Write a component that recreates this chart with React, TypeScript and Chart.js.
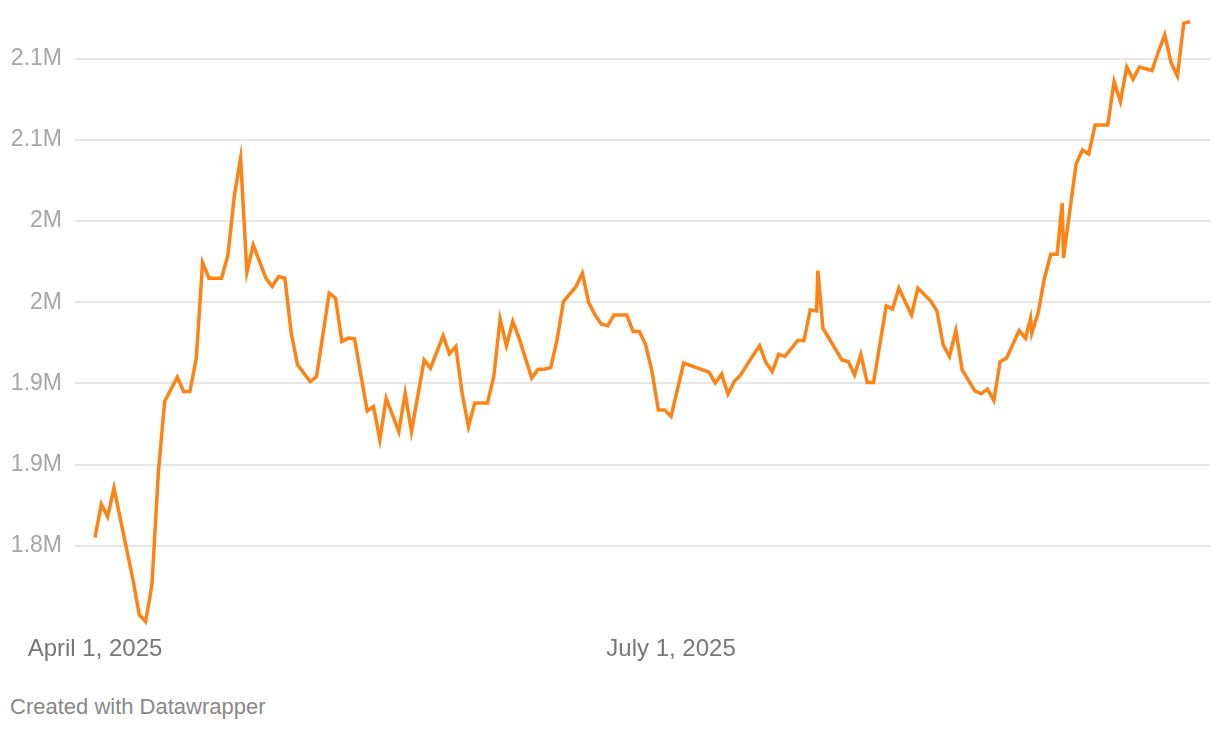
import { useEffect, useRef } from "react";
import { Chart, registerables } from "chart.js";

Chart.register(...registerables);

// Day offsets from April 1, 2025 (a few fractional entries are intraday points)
const days = [
  0, 1, 2, 3, 6, 7, 8, 9, 10, 11, 13, 14, 15, 16, 17, 18, 20, 21, 22, 23, 24, 25, 27, 28, 29, 30,
  31, 32, 34, 35, 37, 38, 39, 40, 41, 43, 44, 45, 46, 48, 49, 50, 52, 53, 55, 56, 57, 58, 59, 60,
  62, 63, 64, 65, 66, 67, 69, 70, 71, 72, 73, 74, 75, 76, 77, 78, 79, 80, 81, 82, 84, 85, 86, 87,
  88, 89, 90, 91, 93, 97, 98, 99, 100, 101, 102, 104, 105, 106, 107, 108, 109, 111, 112, 113, 114,
  114.2, 115, 118, 119, 120, 121, 122, 123, 125, 126, 127, 129, 130, 132, 133, 134, 135, 136, 137,
  139, 140, 141, 142, 143, 144, 146, 147, 147.8, 148, 149, 150, 151, 152, 152.8, 153, 155, 156, 157,
  158, 160, 161, 162, 163, 164, 165, 167, 168, 169, 170, 171, 172, 173,
];

// Values in millions
const valuesM = [
  1.8051, 1.8257, 1.818, 1.8355, 1.7791, 1.7575, 1.7534, 1.776, 1.8448, 1.8889, 1.9039, 1.895, 1.895,
  1.9156, 1.9744, 1.9648, 1.9648, 1.9792, 2.0151, 2.0387, 1.9685, 1.9853, 1.9648, 1.9597, 1.9658,
  1.9648, 1.931, 1.9115, 1.9012, 1.9042, 1.9556, 1.9525, 1.9258, 1.9279, 1.9275, 1.8831, 1.8858,
  1.8653, 1.8909, 1.8704, 1.894, 1.8704, 1.9145, 1.9094, 1.9293, 1.9182, 1.9227, 1.894, 1.8735,
  1.8879, 1.8879, 1.9042, 1.9396, 1.9232, 1.9381, 1.9279, 1.9033, 1.9088, 1.9088, 1.9098, 1.9268,
  1.9504, 1.955, 1.9597, 1.9679, 1.9498, 1.9422, 1.9365, 1.9355, 1.9422, 1.9422, 1.932, 1.932,
  1.9238, 1.9073, 1.8837, 1.8837, 1.8796, 1.9125, 1.907, 1.9002, 1.9057, 1.8934, 1.9012, 1.9053,
  1.9176, 1.9232, 1.9129, 1.9073, 1.918, 1.9166, 1.9264, 1.9264, 1.9453, 1.9447, 1.9695, 1.9341,
  1.9145, 1.9135, 1.9053, 1.918, 1.9006, 1.9006, 1.9478, 1.9459, 1.9587, 1.9422, 1.9587, 1.9509,
  1.9449, 1.9238, 1.9166, 1.9326, 1.9084, 1.8954, 1.8936, 1.8965, 1.8895, 1.9135, 1.9156, 1.9326,
  1.9279, 1.9402, 1.931, 1.9433, 1.9648, 1.9796, 1.9796, 2.011, 1.9772, 2.0352, 2.0438, 2.0414,
  2.0592, 2.0592, 2.0859, 2.0736, 2.0948, 2.0874, 2.0948, 2.0927, 2.1044, 2.1147, 2.0976, 2.0894,
  2.1219, 2.1228,
];

const xTickDays = [0, 91];
const xTickLabels = ["April 1, 2025", "July 1, 2025"];
const yTickValues = [1.8, 1.85, 1.9, 1.95, 2.0, 2.05, 2.1];
const yTickLabels = ["1.8M", "1.9M", "1.9M", "2M", "2M", "2.1M", "2.1M"];

const FONT = "'Liberation Sans', Arial, Helvetica, sans-serif";

export default function App() {
  const ref = useRef<HTMLCanvasElement>(null);

  useEffect(() => {
    const chart = new Chart(ref.current!, {
      type: "line",
      data: {
        datasets: [
          {
            data: days.map((d, i) => ({ x: d, y: valuesM[i] })),
            borderColor: "#ff8214",
            borderWidth: 3.5,
            pointRadius: 0,
            tension: 0,
            fill: false,
          },
        ],
      },
      options: {
        animation: false,
        responsive: true,
        maintainAspectRatio: false,
        layout: { padding: { top: 10, right: 10, left: 0, bottom: 0 } },
        plugins: { legend: { display: false }, tooltip: { enabled: false } },
        scales: {
          x: {
            type: "linear",
            min: -3.16,
            max: 176.15,
            grid: { display: false, drawTicks: false },
            border: { display: false },
            afterBuildTicks: (s: any) => {
              s.ticks = xTickDays.map((v) => ({ value: v }));
            },
            afterFit: (s: any) => {
              s.height = 53;
              s.paddingLeft = 0;
              s.paddingRight = 0;
            },
            ticks: {
              autoSkip: false,
              maxRotation: 0,
              padding: 8,
              color: "#777777",
              font: { size: 24, family: FONT },
              callback: (v: any) => {
                const i = xTickDays.indexOf(Number(v));
                return i >= 0 ? xTickLabels[i] : "";
              },
            },
          },
          y: {
            type: "linear",
            min: 1.75,
            max: 2.13,
            grid: { color: "#e6e6e6", lineWidth: 2, drawTicks: false },
            border: { display: false },
            afterBuildTicks: (s: any) => {
              s.ticks = yTickValues.map((v) => ({ value: v }));
            },
            afterFit: (s: any) => {
              s.width = 75;
              s.paddingTop = 0;
              s.paddingBottom = 0;
            },
            ticks: {
              padding: 13,
              color: "#a6a6a6",
              font: { size: 23, family: FONT },
              callback: (v: any) => {
                const i = yTickValues.findIndex((t) => Math.abs(t - Number(v)) < 1e-6);
                return i >= 0 ? yTickLabels[i] : "";
              },
            },
          },
        },
      },
    });
    return () => chart.destroy();
  }, []);

  return (
    <div
      style={{
        position: "fixed",
        left: 0,
        top: 0,
        width: 1220,
        height: 730,
        background: "#ffffff",
        fontFamily: FONT,
      }}
    >
      <div style={{ position: "absolute", left: 0, top: 0, width: 1220, height: 680 }}>
        <canvas ref={ref} />
      </div>
      <div
        style={{
          position: "absolute",
          left: 10,
          top: 693,
          fontSize: 22,
          lineHeight: "28px",
          color: "#888888",
          whiteSpace: "nowrap",
        }}
      >
        Created with Datawrapper
      </div>
    </div>
  );
}
